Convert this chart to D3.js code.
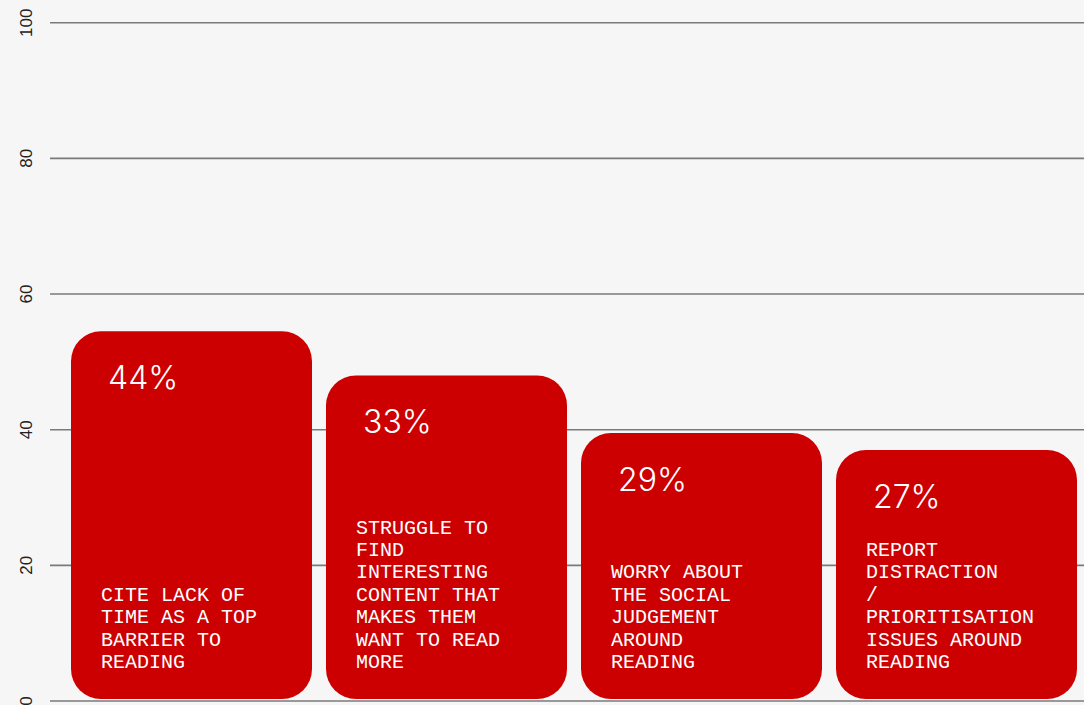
<!DOCTYPE html>
<html>
<head>
<meta charset="utf-8">
<script src="https://cdn.jsdelivr.net/npm/d3@7"></script>
<style>
  html, body { margin: 0; padding: 0; background: #f6f6f6; }
  svg { display: block; }
</style>
</head>
<body>
<svg id="chart" width="1084" height="705"></svg>
<script>
// Reading barriers: bar heights on the 0–100 axis, headline shares and captions
const barriers = ["time", "content", "social", "distraction"];
const barHeights = [54.5, 48, 39.5, 37];
const shareLabels = ["44%", "33%", "29%", "27%"];
const captions = [
  ["CITE LACK OF", "TIME AS A TOP", "BARRIER TO", "READING"],
  ["STRUGGLE TO", "FIND", "INTERESTING", "CONTENT THAT", "MAKES THEM", "WANT TO READ", "MORE"],
  ["WORRY ABOUT", "THE SOCIAL", "JUDGEMENT", "AROUND", "READING"],
  ["REPORT", "DISTRACTION", "/", "PRIORITISATION", "ISSUES AROUND", "READING"]
];
const yTicks = [0, 20, 40, 60, 80, 100];

const rows = barriers.map((key, i) => ({
  key, height: barHeights[i], share: shareLabels[i], lines: captions[i]
}));

const W = 1084, H = 705;
const svg = d3.select("#chart");

const y = d3.scaleLinear().domain([0, 100]).range([701, 22.7]);
const x = d3.scaleBand()
  .domain(barriers)
  .range([64, W])
  .paddingInner(14 / 255)
  .paddingOuter(7 / 255);

// horizontal grid
svg.append("g")
  .selectAll("line")
  .data(yTicks)
  .join("line")
  .attr("x1", 50)
  .attr("x2", W)
  .attr("y1", d => y(d))
  .attr("y2", d => y(d))
  .attr("stroke", "#7a7a7a")
  .attr("stroke-width", 1.6);

// rotated tick labels on the left
svg.append("g")
  .selectAll("text")
  .data(yTicks)
  .join("text")
  .attr("transform", d => `translate(32,${y(d)}) rotate(-90)`)
  .attr("text-anchor", "middle")
  .attr("font-family", "'Liberation Sans', Arial, sans-serif")
  .attr("font-size", 17)
  .attr("fill", "#222")
  .text(d => d);

const baseGap = 2;
const g = svg.append("g")
  .selectAll("g")
  .data(rows)
  .join("g");

// rounded bars
g.append("rect")
  .attr("x", d => x(d.key))
  .attr("y", d => y(d.height))
  .attr("width", x.bandwidth())
  .attr("height", d => y(0) - baseGap - y(d.height))
  .attr("rx", 30)
  .attr("ry", 30)
  .attr("fill", "#cc0000");

// headline share
g.append("text")
  .attr("x", d => x(d.key) + 37)
  .attr("y", d => y(d.height) + 58)
  .attr("font-family", "Inter, 'Open Sans', sans-serif")
  .attr("font-weight", 300)
  .attr("font-size", 32)
  .attr("fill", "#ffffff")
  .text(d => d.share);

// caption, bottom-aligned inside each bar
const lineH = 22.4;
g.append("text")
  .attr("font-family", "'Liberation Mono', 'DejaVu Sans Mono', monospace")
  .attr("font-size", 20)
  .attr("fill", "#ffffff")
  .each(function(d) {
    const t = d3.select(this);
    const last = y(0) - baseGap - 31;
    const first = last - (d.lines.length - 1) * lineH;
    t.selectAll("tspan")
      .data(d.lines)
      .join("tspan")
      .attr("x", x(d.key) + 30)
      .attr("y", (l, i) => first + i * lineH)
      .text(l => l);
  });
</script>
</body>
</html>
